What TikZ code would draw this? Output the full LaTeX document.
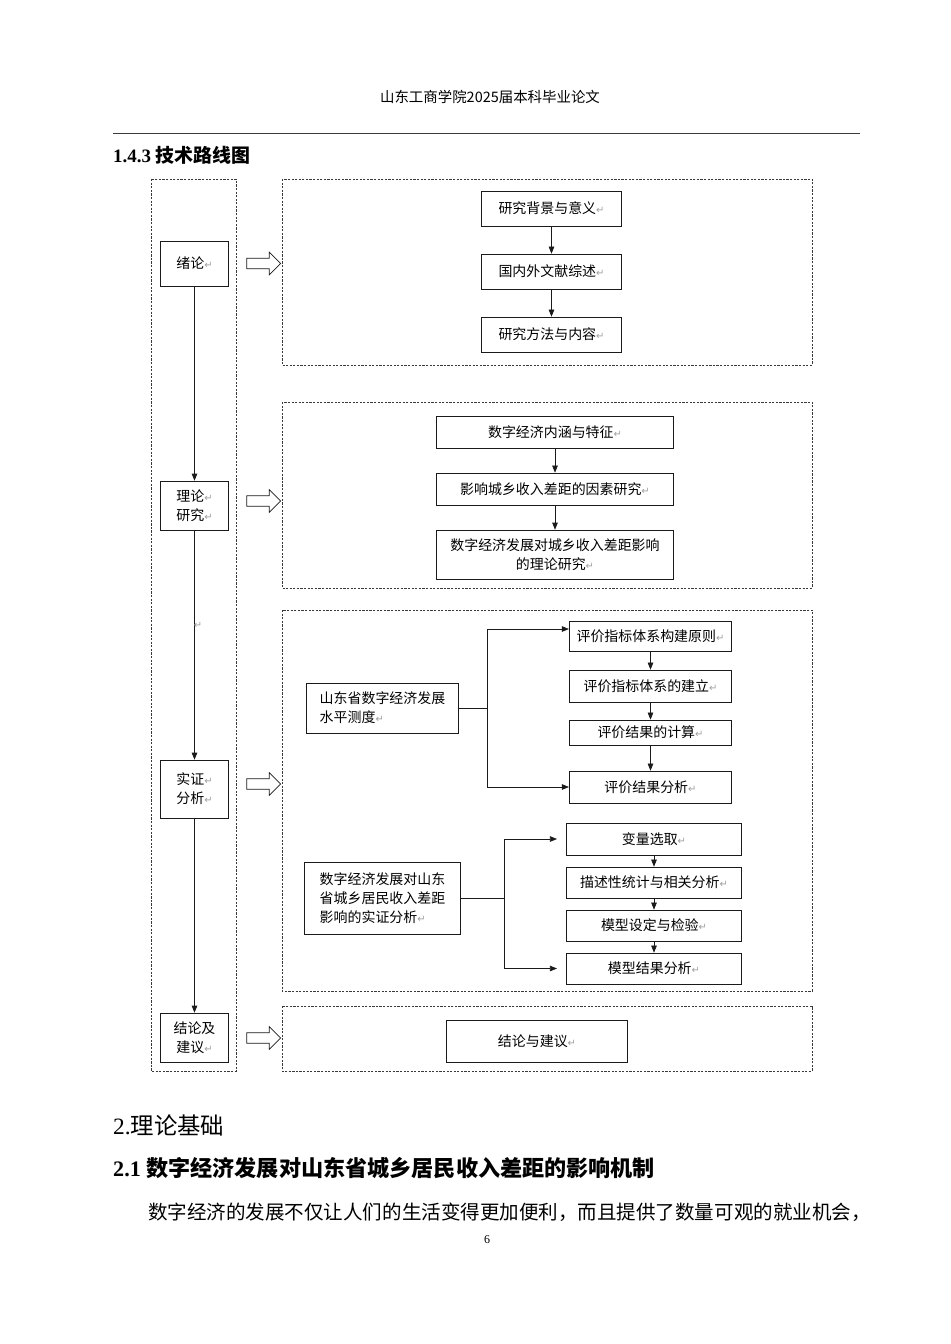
\documentclass[tikz,border=0pt]{standalone}
\usepackage{fontspec}
\setmainfont{Liberation Serif}
\newfontfamily\cjk{Noto Sans CJK SC}
\newfontfamily\markfont{DejaVu Sans}
\usetikzlibrary{arrows.meta,shapes.arrows}
\definecolor{ki}{HTML}{1a1a1a}
\definecolor{kd}{HTML}{3a3a3a}
\definecolor{km}{HTML}{a0a0a0}
\newcommand{\ret}{{\markfont\color{km}\fontsize{10}{10}\selectfont ↵}}

\begin{document}
\begin{tikzpicture}[x=1bp,y=-1bp,
  box/.style={draw=ki,line width=0.8pt,fill=white,inner sep=2pt,align=center,
    font=\cjk\fontsize{14}{19}\selectfont},
  frame/.style={draw=kd,line width=0.6pt,dash pattern=on 2.2pt off 1.4pt},
  flow/.style={draw=ki,line width=0.6pt,-{Triangle[length=7pt,width=5.5pt]}},
  hollow/.style={single arrow,draw=ki,line width=0.7pt,fill=white,inner sep=5pt,
    minimum width=22pt,minimum height=34pt,single arrow head extend=6pt}]
  % Page
  \fill[white] (0,0) rectangle (950,1344);
  \useasboundingbox (0,0) rectangle (950,1344);

  % Running head
  \node[font=\cjk\fontsize{14.5}{14.5}\selectfont] (head) at (490,97) {山东工商学院2025届本科毕业论文};
  \draw[kd,line width=0.8pt] (113,133) -- (860,133);
  \node[anchor=west,inner sep=0,font=\bfseries\fontsize{19}{19}\selectfont] (sec) at (113,155)
    {1.4.3 {\cjk 技术路线图}};

  % Dashed frames
  \draw[frame] (151,179) rectangle (236,1071);
  \draw[frame] (282,179) rectangle (812,365);
  \draw[frame] (282,402) rectangle (812,588);
  \draw[frame] (282,610) rectangle (812,991);
  \draw[frame] (282,1006) rectangle (812,1071);

  % Left column (stages)
  \node[box,minimum width=69,minimum height=45] (intro) at (194.5,263.5) {绪论\ret};
  \node[box,minimum width=69,minimum height=49] (theory) at (194.5,505.5) {理论\ret\\研究\ret};
  \node[box,minimum width=69,minimum height=58] (empir) at (194.5,789) {实证\ret\\分析\ret};
  \node[box,minimum width=69,minimum height=49] (concl) at (194.5,1037.5) {结论及\\建议\ret};
  \draw[flow] (intro) -- (theory);
  \draw[flow] (theory) -- (empir);
  \draw[flow] (empir) -- (concl);
  \node[inner sep=0] (stray) at (198,625) {\ret};

  % Hollow arrows into the frames
  \foreach \n/\y in {hintro/263.5,htheory/501,hempir/784,hconcl/1038} {
    \node[hollow] (\n) at (261,\y) {};
  }

  % Introduction
  \node[box,minimum width=141,minimum height=35] (bg) at (551.5,208.5) {研究背景与意义\ret};
  \node[box,minimum width=141,minimum height=35] (lit) at (551.5,271.5) {国内外文献综述\ret};
  \node[box,minimum width=141,minimum height=35] (meth) at (551.5,334.5) {研究方法与内容\ret};

  % Theory
  \node[box,minimum width=238,minimum height=32] (conn) at (555,432) {数字经济内涵与特征\ret};
  \node[box,minimum width=238,minimum height=32] (fact) at (555,489) {影响城乡收入差距的因素研究\ret};
  \node[box,minimum width=238,minimum height=49] (theo) at (555,554.5) {数字经济发展对城乡收入差距影响\\的理论研究\ret};

  % Empirical analysis, part one
  \node[box,align=left,minimum width=153,minimum height=50] (measure) at (382.5,708)
    {山东省数字经济发展\\水平测度\ret};
  \node[box,minimum width=163,minimum height=30] (principle) at (650.5,636) {评价指标体系构建原则\ret};
  \node[box,minimum width=163,minimum height=32] (build) at (650.5,686) {评价指标体系的建立\ret};
  \node[box,minimum width=163,minimum height=25] (calc) at (650.5,732.5) {评价结果的计算\ret};
  \node[box,minimum width=163,minimum height=32] (analysis) at (650.5,787) {评价结果分析\ret};
  \draw[flow] (measure.east) -- ++(28,0) |- ([yshift=7pt]principle.west);
  \draw[flow] (measure.east) -- ++(28,0) |- (analysis.west);

  % Empirical analysis, part two
  \node[box,align=left,minimum width=157,minimum height=73] (study) at (382.5,898.5)
    {数字经济发展对山东\\省城乡居民收入差距\\影响的实证分析\ret};
  \node[box,minimum width=176,minimum height=32] (var) at (654,839) {变量选取\ret};
  \node[box,minimum width=176,minimum height=31] (desc) at (654,882.5) {描述性统计与相关分析\ret};
  \node[box,minimum width=176,minimum height=31] (model) at (654,925.5) {模型设定与检验\ret};
  \node[box,minimum width=176,minimum height=31] (result) at (654,968.5) {模型结果分析\ret};
  \draw[flow,shorten >=9pt] (study.east) -- ++(43,0) |- (var.west);
  \draw[flow,shorten >=9pt] (study.east) -- ++(43,0) |- (result.west);

  % Vertical flows inside the frames
  \foreach \a/\b in {bg/lit,lit/meth,conn/fact,fact/theo,principle/build,build/calc,
                     calc/analysis,var/desc,desc/model,model/result} {
    \draw[flow] (\a) -- (\b);
  }

  % Conclusion
  \node[box,minimum width=182,minimum height=42] (advice) at (537,1041) {结论与建议\ret};

  % Following text
  \node[anchor=west,inner sep=0,font=\fontsize{23.5}{23.5}\selectfont] (ch2) at (113,1125)
    {2.{\cjk 理论基础}};
  \node[anchor=west,inner sep=0,font=\bfseries\fontsize{22.2}{22.2}\selectfont] (sec21) at (113,1168)
    {2.1 {\cjk 数字经济发展对山东省城乡居民收入差距的影响机制}};
  \node[anchor=west,inner sep=0,font=\cjk\fontsize{19.6}{19.6}\selectfont] (para) at (148,1212)
    {数字经济的发展不仅让人们的生活变得更加便利，而且提供了数量可观的就业机会，};
  \node[font=\fontsize{12}{12}\selectfont] (page) at (487,1240) {6};
\end{tikzpicture}
\end{document}
